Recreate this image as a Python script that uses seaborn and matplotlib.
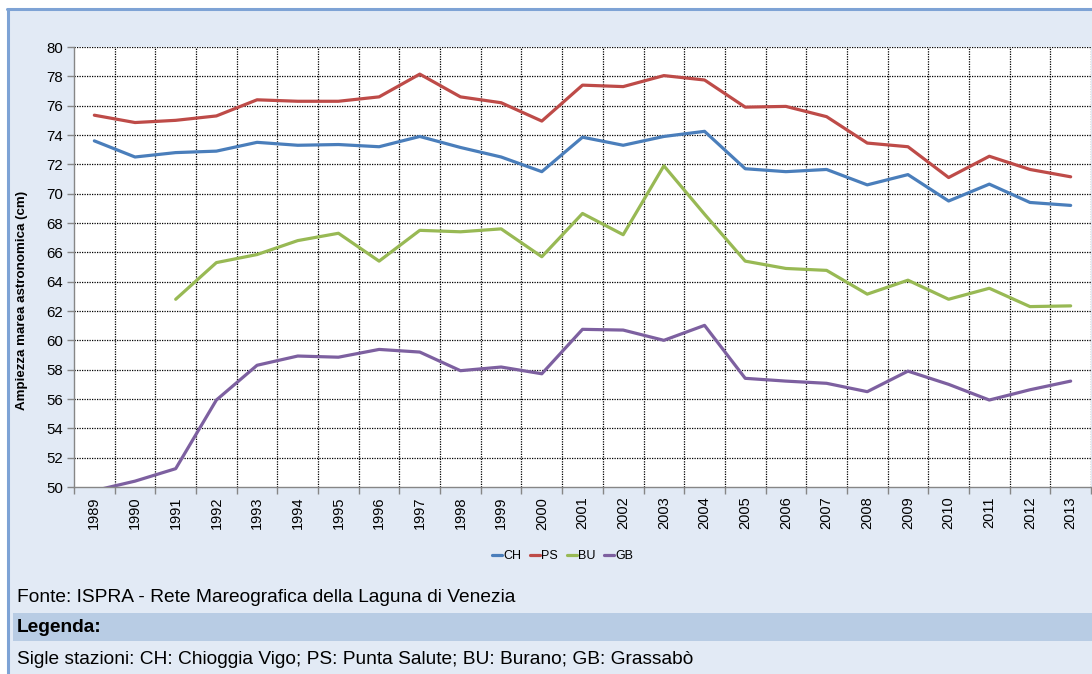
import matplotlib
matplotlib.use("Agg")
import matplotlib.pyplot as plt
from matplotlib.patches import Rectangle
from matplotlib.lines import Line2D
from matplotlib.ticker import MultipleLocator, FixedLocator
import numpy as np
import pandas as pd
import seaborn as sns

# Annual astronomical tide amplitude (cm) per station
years = list(range(1989, 2014))
ch = [73.6, 72.5, 72.8, 72.9, 73.5, 73.3, 73.35, 73.2, 73.9, 73.15, 72.5, 71.5, 73.85,
      73.3, 73.9, 74.25, 71.7, 71.5, 71.65, 70.6, 71.3, 69.5, 70.65, 69.4, 69.2]
ps = [75.35, 74.85, 75.0, 75.3, 76.4, 76.3, 76.3, 76.6, 78.15, 76.6, 76.2, 74.95, 77.4,
      77.3, 78.05, 77.75, 75.9, 75.95, 75.25, 73.45, 73.2, 71.1, 72.55, 71.65, 71.15]
bu = [np.nan, np.nan, 62.8, 65.3, 65.85, 66.8, 67.3, 65.4, 67.5, 67.4, 67.6, 65.7, 68.65,
      67.2, 71.9, 68.6, 65.4, 64.9, 64.77, 63.15, 64.1, 62.8, 63.55, 62.3, 62.35]
gb = [49.75, 50.4, 51.25, 55.93, 58.3, 58.93, 58.85, 59.38, 59.2, 57.93, 58.18, 57.72, 60.75,
      60.7, 60.0, 61.02, 57.41, 57.22, 57.07, 56.5, 57.9, 57.0, 55.93, 56.63, 57.22]
stations = ["CH", "PS", "BU", "GB"]
colors = ["#4A7EBB", "#BE4B48", "#98B954", "#7D60A0"]

ylabel = "Ampiezza marea astronomica (cm)"
source = "Fonte: ISPRA - Rete Mareografica della Laguna di Venezia"
legend_title = "Legenda:"
legend_text = "Sigle stazioni: CH: Chioggia Vigo; PS: Punta Salute; BU: Burano; GB: Grassabò"

df = pd.DataFrame({"Anno": years, "CH": ch, "PS": ps, "BU": bu, "GB": gb})
long = df.melt(id_vars="Anno", var_name="Stazione", value_name="Ampiezza")

sns.set_theme(style="white")
plt.rcParams["font.family"] = ["Liberation Sans", "DejaVu Sans"]
plt.rcParams["text.color"] = "black"
plt.rcParams["axes.labelcolor"] = "black"
plt.rcParams["xtick.color"] = "black"
plt.rcParams["ytick.color"] = "black"

W, H = 1092, 674
fig = plt.figure(figsize=(W / 100, H / 100), dpi=100)
fig.patch.set_facecolor("white")

# panel background and frame
panel_bg = "#E2EAF5"
fig.patches.append(Rectangle((7 / W, 0), 1.0, 1 - 9 / H, transform=fig.transFigure,
                             facecolor=panel_bg, edgecolor="none", zorder=-10))
fig.lines.append(Line2D([7.5 / W, 7.5 / W], [0, 1 - 9 / H], transform=fig.transFigure,
                        color="#7EA3D5", lw=2.2, zorder=-9))
fig.lines.append(Line2D([7 / W, 1.0], [1 - 9 / H, 1 - 9 / H], transform=fig.transFigure,
                        color="#7EA3D5", lw=2.2, zorder=-9))
# "Legenda" band
fig.patches.append(Rectangle((13 / W, 1 - 641 / H), 1.0, 28 / H, transform=fig.transFigure,
                             facecolor="#B8CCE4", edgecolor="none", zorder=-9))

ax = fig.add_axes([74 / W, 1 - 487 / H, (1091 - 74) / W, 440 / H])
ax.set_facecolor("white")

sns.lineplot(data=long, x="Anno", y="Ampiezza", hue="Stazione", hue_order=stations,
             palette=colors, lw=2.3, ax=ax, legend=True)

ax.set_xlim(1988.5, 2013.5)
ax.set_ylim(50, 80)
ax.yaxis.set_major_locator(MultipleLocator(2))
ax.set_xticks(years)
ax.set_xticklabels([str(y) for y in years], rotation=90, fontsize=10.5, color="black")
ax.tick_params(axis="y", labelsize=10.8, labelcolor="black", length=5, color="#868686",
               width=1, pad=3, left=True, direction="out")
ax.tick_params(axis="x", length=0, pad=7)
# category boundary ticks and grid
ax.xaxis.set_minor_locator(FixedLocator([y + 0.5 for y in range(1988, 2014)]))
ax.tick_params(axis="x", which="minor", length=5, color="#868686", width=1, bottom=True)
ax.grid(False)
for yv in range(52, 81, 2):
    ax.axhline(yv, color="black", lw=0.9, ls=(0, (1, 1)), zorder=0.5)
for xv in [y + 0.5 for y in range(1989, 2014)]:
    ax.axvline(xv, color="black", lw=0.9, ls=(0, (1, 1)), zorder=0.5)

for s in ["top", "right"]:
    ax.spines[s].set_visible(False)
for s in ["left", "bottom"]:
    ax.spines[s].set_color("#868686")
    ax.spines[s].set_linewidth(1.0)

ax.set_xlabel("")
ax.set_ylabel(ylabel, fontsize=9.6, fontweight="bold", color="black")
ax.yaxis.set_label_coords(-46 / (1091 - 74), (487 - 300) / 440)

handles, labels = ax.get_legend_handles_labels()
ax.legend_.remove()
fig.legend(handles, labels, loc="center", bbox_to_anchor=(563 / W, 1 - 556 / H), ncol=4,
           frameon=False, fontsize=9.0, handlelength=0.8, handletextpad=0.1,
           columnspacing=0.7)

txt_family = ["Liberation Sans", "DejaVu Sans"]
fig.text(17 / W, 1 - 597 / H, source, fontsize=13.8, va="center", ha="left",
         family=txt_family)
fig.text(17 / W, 1 - 627 / H, legend_title, fontsize=13.8, va="center", ha="left",
         fontweight="bold", family=txt_family)
fig.text(17 / W, 1 - 660 / H, legend_text, fontsize=13.8, va="center", ha="left",
         family=txt_family)

fig.savefig("out.png", dpi=100)
